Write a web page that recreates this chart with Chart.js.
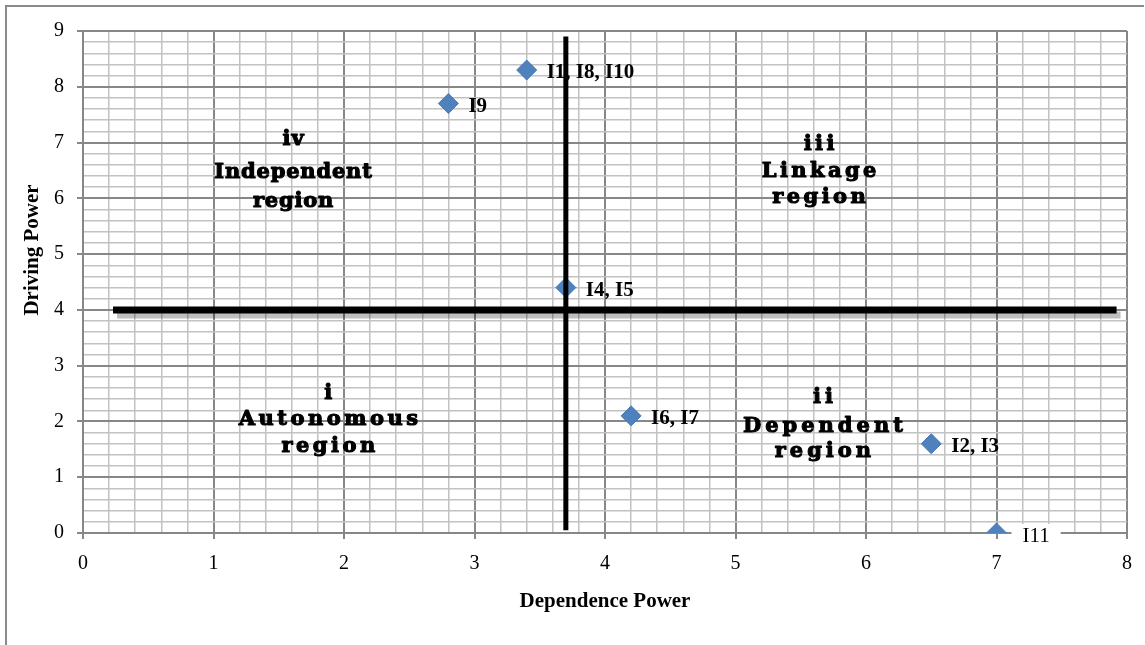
<!DOCTYPE html>
<html><head><meta charset="utf-8">
<script src="https://cdn.jsdelivr.net/npm/chart.js@4/dist/chart.umd.min.js"></script>
<style>html,body{margin:0;padding:0;background:#fff}#wrap{width:1145px;height:645px;position:relative}</style>
</head><body><div id="wrap"><canvas id="c" width="1145" height="645"></canvas></div>
<script>
// ---- data ----
const pointLabels = ["I1, I8, I10", "I9", "I4, I5", "I6, I7", "I2, I3", "I11"];
const dependencePower = [3.4, 2.8, 3.7, 4.2, 6.5, 7];
const drivingPower = [8.3, 7.7, 4.4, 2.1, 1.6, 0];
const xTickLabels = ["0","1","2","3","4","5","6","7","8"];
const yTickLabels = ["0","1","2","3","4","5","6","7","8","9"];
const dividerH_x = [0.23, 7.92];
const dividerH_y = [4, 4];
const dividerV_x = [3.7, 3.7];
const dividerV_y = [8.9, 0.05];
const regionNames = [
  ["iv", "Independent", "region"],
  ["iii", "Linkage", "region"],
  ["i", "Autonomous", "region"],
  ["ii", "Dependent", "region"]
];

// ---- annotation placement (data coords) & styles ----
const regionPlacement = [
  {x: 1.61, y: [6.96, 6.37, 5.84], spacing: 0.8},
  {x: 5.64, y: [6.87, 6.39, 5.92], spacing: 3.4},
  {x: 1.88, y: [2.40, 1.94, 1.45], spacing: 3.5},
  {x: 5.67, y: [2.33, 1.81, 1.36], spacing: 4}
];
const labelSpecial = {"I11": {bold: false, box: true, dx: 26}};

const isMajor = v => Math.abs(v - Math.round(v)) < 1e-6;
const MAJOR = '#878787', MINOR = '#c2c2c2';

const pts = dependencePower.map((x, i) => ({x, y: drivingPower[i]}));
const hLine = dividerH_x.map((x, i) => ({x, y: dividerH_y[i]}));
const vLine = dividerV_x.map((x, i) => ({x, y: dividerV_y[i]}));

const framePlugin = {
  id: 'frame',
  beforeDraw(chart) {
    const c = chart.ctx;
    c.save();
    c.fillStyle = '#fff';
    c.fillRect(0, 0, chart.width, chart.height);
    c.strokeStyle = '#8a8a8a';
    c.lineWidth = 2;
    c.beginPath();
    c.moveTo(6, 645); c.lineTo(6, 6); c.lineTo(1144, 6);
    c.stroke();
    c.restore();
  },
  beforeDatasetsDraw(chart) {
    const c = chart.ctx, xs = chart.scales.x, ys = chart.scales.y;
    c.save();
    c.fillStyle = '#000';
    c.strokeStyle = '#000';
    c.lineWidth = 1.1;
    c.lineJoin = 'round';
    c.font = 'bold 21px "DejaVu Serif"';
    c.textAlign = 'center';
    c.textBaseline = 'alphabetic';
    regionNames.forEach((lines, r) => {
      const p = regionPlacement[r];
      c.letterSpacing = p.spacing + 'px';
      lines.forEach((t, k) => {
        const px = xs.getPixelForValue(p.x) + p.spacing / 2, py = ys.getPixelForValue(p.y[k]);
        c.fillText(t, px, py);
        c.strokeText(t, px, py);
      });
    });
    c.restore();
    // y axis title
    c.save();
    c.translate(33, 250);
    c.rotate(-Math.PI / 2);
    c.font = 'bold 21px "Liberation Serif"';
    c.fillStyle = '#000';
    c.textAlign = 'center';
    c.textBaseline = 'middle';
    c.fillText('Driving Power', 0, 0);
    c.restore();
  },
  beforeDatasetDraw(chart, args) {
    if (args.index === 1) {
      const c = chart.ctx;
      c.save();
      c.shadowColor = 'rgba(0,0,0,0.25)';
      c.shadowOffsetX = 4;
      c.shadowOffsetY = 5;
      c.shadowBlur = 0;
    }
  },
  afterDatasetDraw(chart, args) {
    if (args.index === 1) chart.ctx.restore();
    if (args.index === 0) {
      const c = chart.ctx, meta = args.meta;
      c.save();
      c.textBaseline = 'middle';
      c.textAlign = 'left';
      meta.data.forEach((el, i) => {
        const lab = pointLabels[i];
        const sp = labelSpecial[lab] || {};
        const bold = sp.bold !== false;
        c.font = (bold ? 'bold ' : '') + '21px "Liberation Serif"';
        const x = el.x + (sp.dx || 20), y = el.y + 3;
        if (sp.box) {
          const w = c.measureText(lab).width;
          c.fillStyle = '#fff';
          c.fillRect(x - 11, y - 12, w + 22, 24);
        }
        c.fillStyle = '#000';
        c.fillText(lab, x, y);
      });
      c.restore();
    }
  }
};

new Chart(document.getElementById('c'), {
  type: 'scatter',
  data: {
    datasets: [
      {data: pts, order: 3, pointStyle: 'rectRot', pointRadius: 10, pointHoverRadius: 10,
       backgroundColor: '#4f81bd', borderColor: '#4a7ab5', borderWidth: 1, showLine: false},
      {data: hLine, order: 2, showLine: true, borderColor: '#000', borderWidth: 7, pointRadius: 0,
       borderCapStyle: 'butt', fill: false},
      {data: vLine, order: 1, showLine: true, borderColor: '#000', borderWidth: 5, pointRadius: 0,
       borderCapStyle: 'butt', fill: false}
    ]
  },
  options: {
    responsive: false,
    animation: false,
    devicePixelRatio: 1,
    events: [],
    layout: {padding: {left: 0, right: 17, top: 31, bottom: 0}},
    plugins: {legend: {display: false}, tooltip: {enabled: false}},
    scales: {
      x: {
        type: 'linear', min: 0, max: 8,
        afterFit(s) { s.height = 112; },
        ticks: {stepSize: 0.2, maxTicksLimit: 100, autoSkip: false, maxRotation: 0,
          padding: 13, color: '#000', font: {family: 'Liberation Serif', size: 20},
          callback: v => isMajor(v) ? xTickLabels[Math.round(v)] : ''},
        grid: {color: c => isMajor(c.tick.value) ? MAJOR : MINOR,
          lineWidth: c => isMajor(c.tick.value) ? 2 : 1.5,
          tickColor: c => isMajor(c.tick.value) ? MAJOR : 'rgba(0,0,0,0)', tickLength: 6},
        border: {color: MAJOR, width: 2},
        title: {display: true, text: 'Dependence Power', color: '#000',
          font: {family: 'Liberation Serif', size: 21, weight: 'bold'}, padding: {top: 0, bottom: 31}}
      },
      y: {
        type: 'linear', min: 0, max: 9,
        afterFit(s) { s.width = 83; },
        ticks: {stepSize: 0.2, maxTicksLimit: 100, autoSkip: false,
          padding: 13, color: '#000', font: {family: 'Liberation Serif', size: 20},
          callback: v => isMajor(v) ? yTickLabels[Math.round(v)] : ''},
        grid: {color: c => isMajor(c.tick.value) ? MAJOR : MINOR,
          lineWidth: c => isMajor(c.tick.value) ? 2 : 1.5,
          tickColor: c => isMajor(c.tick.value) ? MAJOR : 'rgba(0,0,0,0)', tickLength: 6},
        border: {color: MAJOR, width: 2}
      }
    }
  },
  plugins: [framePlugin]
});
</script>
</body></html>
